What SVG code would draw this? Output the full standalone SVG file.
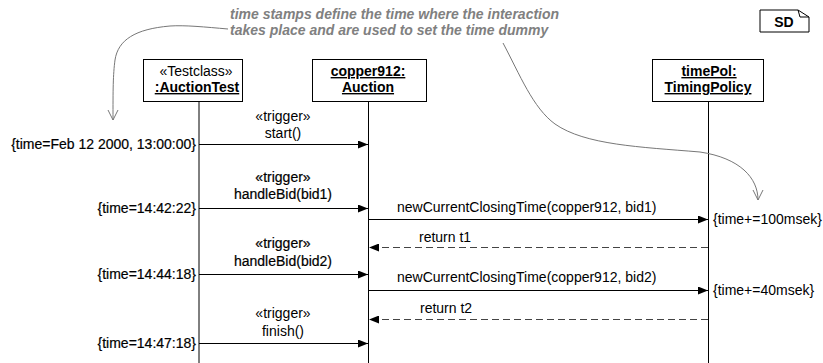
<svg xmlns="http://www.w3.org/2000/svg" width="823" height="363" viewBox="0 0 823 363">
<style>
text{font-family:"Liberation Sans",Arial,sans-serif;font-size:14px;fill:#000}
.c{text-anchor:middle}
.e{text-anchor:end}
.b{font-weight:bold}
.u{text-decoration:underline}
.h{stroke:#000;stroke-width:0.2}
.note{font-weight:bold;font-style:italic;fill:#808080}
.box{fill:#fff;stroke:#000;stroke-width:1}
.life{stroke:#000;stroke-width:1}
.msg{stroke:#000;stroke-width:1;fill:none}
.ret{stroke:#444;stroke-width:1;stroke-dasharray:7 4;fill:none}
.cur{stroke:#777;stroke-width:1;fill:none}
</style>
<defs>
<marker id="ah" markerWidth="10" markerHeight="8" refX="10" refY="4" orient="auto" markerUnits="userSpaceOnUse">
<path d="M0,0 L10,4 L0,8 Z" fill="#000"/>
</marker>
<marker id="oh" markerWidth="12" markerHeight="12" refX="10" refY="6" orient="auto" markerUnits="userSpaceOnUse">
<path d="M0,1 L10,6 L0,11" fill="none" stroke="#777" stroke-width="1"/>
</marker>
</defs>

<g id="note">
<text class="note" x="230" y="19">time stamps define the time where the interaction</text>
<text class="note" x="230" y="35">takes place and are used to set the time dummy</text>
</g>

<g id="sd">
<path class="box" d="M760,10 H798 L809,17 V32 H760 Z"/>
<path d="M798,10 L800,17 L809,17" fill="none" stroke="#000" stroke-width="1"/>
<text class="c b" x="784" y="27">SD</text>
</g>

<g id="auctionTest">
<line class="life" x1="199" y1="101" x2="199" y2="363"/>
<rect class="box" x="143.5" y="59.5" width="99" height="42"/>
<text class="c" x="196" y="76">«Testclass»</text>
<text class="c b u" x="197" y="92">:AuctionTest</text>
</g>

<g id="copper912">
<line class="life" x1="368.5" y1="101" x2="368.5" y2="363"/>
<rect class="box" x="312.5" y="59.5" width="114" height="42"/>
<text class="c b u" x="368" y="76">copper912:</text>
<text class="c b u" x="368" y="92">Auction</text>
</g>

<g id="timePol">
<line class="life" x1="708.5" y1="101" x2="708.5" y2="363"/>
<rect class="box" x="652.5" y="59.5" width="111" height="42"/>
<text class="c b u" x="709" y="76">timePol:</text>
<text class="c b u" x="708" y="92">TimingPolicy</text>
</g>

<g id="connectors">
<path class="cur" d="M228,29 C205,27 185,25 170,26 C135,29 118,40 115,60 C113,75 113,90 113,120" marker-end="url(#oh)"/>
<path class="cur" d="M503,43 C520,75 533,108 555,124 C585,145 640,147 700,152 C740,158 758,178 758,200" marker-end="url(#oh)"/>

<line class="msg" x1="199" y1="144.5" x2="368" y2="144.5" marker-end="url(#ah)"/>
<line class="msg" x1="199" y1="208.5" x2="368" y2="208.5" marker-end="url(#ah)"/>
<line class="msg" x1="369" y1="219.5" x2="708" y2="219.5" stroke="#333" marker-end="url(#ah)"/>
<line class="ret" x1="708" y1="247.5" x2="369" y2="247.5" marker-end="url(#ah)"/>
<line class="msg" x1="199" y1="274.5" x2="368" y2="274.5" marker-end="url(#ah)"/>
<line class="msg" x1="369" y1="290.5" x2="708" y2="290.5" stroke="#333" marker-end="url(#ah)"/>
<line class="ret" x1="708" y1="319.5" x2="369" y2="319.5" marker-end="url(#ah)"/>
<line class="msg" x1="199" y1="343.5" x2="368" y2="343.5" marker-end="url(#ah)"/>

<text class="c" x="283" y="121" fill="#222">«trigger»</text>
<text class="c" x="283" y="138">start()</text>
<text class="c h" x="283" y="182">«trigger»</text>
<text class="c h" x="283" y="199">handleBid(bid1)</text>
<text class="c h" x="283" y="248">«trigger»</text>
<text class="c h" x="283" y="266">handleBid(bid2)</text>
<text class="c" x="283" y="318">«trigger»</text>
<text class="c" x="283" y="336">finish()</text>

<text x="397" y="212">newCurrentClosingTime(copper912, bid1)</text>
<text x="419" y="242">return t1</text>
<text x="397" y="282">newCurrentClosingTime(copper912, bid2)</text>
<text x="420" y="313">return t2</text>

<text class="e h" x="196" y="149">{time=Feb 12 2000, 13:00:00}</text>
<text class="e h" x="196" y="213">{time=14:42:22}</text>
<text class="e h" x="196" y="279">{time=14:44:18}</text>
<text class="e h" x="196" y="348">{time=14:47:18}</text>
<text x="713" y="224">{time+=100msek}</text>
<text x="713" y="295">{time+=40msek}</text>
</g>
</svg>
